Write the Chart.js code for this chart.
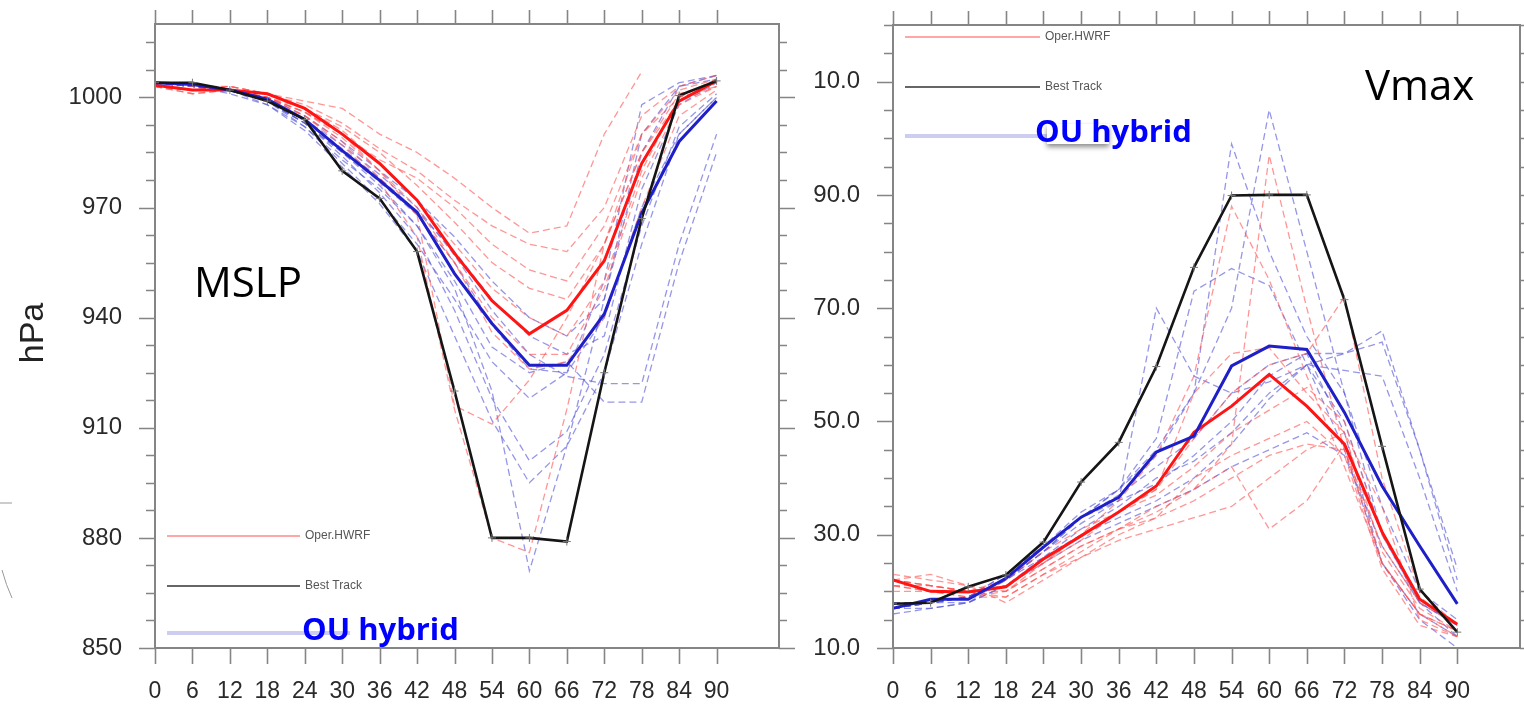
<!DOCTYPE html>
<html>
<head>
<meta charset="utf-8">
<script src="https://cdn.jsdelivr.net/npm/chart.js@4"></script>
<style>
  body { margin: 0; background: #fff; }
  #wrap { position: relative; width: 1524px; height: 704px; overflow: hidden; }
  canvas { position: absolute; top: 0; }
  #mslp { left: 0; }
  #vmax { left: 800px; }
</style>
</head>
<body>
<div id="wrap">
  <canvas id="mslp" width="800" height="704"></canvas>
  <canvas id="vmax" width="724" height="704"></canvas>
</div>
<script>
// forecast hours
const hours = [0, 6, 12, 18, 24, 30, 36, 42, 48, 54, 60, 66, 72, 78, 84, 90];
const hourLabels = ['0','6','12','18','24','30','36','42','48','54','60','66','72','78','84','90'];

// MSLP axis
const mslpTicks = [850, 880, 910, 940, 970, 1000];
const mslpTickLabels = ['850', '880', '910', '940', '970', '1000'];
// Vmax axis (top label is cut off in the picture)
const vmaxTicks = [10, 30, 50, 70, 90, 110];
const vmaxTickLabels = ['10.0', '30.0', '50.0', '70.0', '90.0', '10.0'];

// MSLP (hPa)
const mslpBest = [1004, 1004, 1002, 999, 994, 980, 972.5, 958, 920, 880, 880, 879, 925, 967, 1000.5, 1004.5];
const mslpHwrf = [1003.3, 1002, 1002, 1001, 997, 990, 982, 972, 957.5, 944.6, 935.6, 942, 955.5, 982, 999, 1004.5];
const mslpOu = [1004, 1003.5, 1002, 999.5, 994, 985.5, 977.4, 968.7, 952, 938.4, 927, 927, 941, 968.5, 988, 999];

const mslpHwrfMembers = [
  [1003, 1002, 1003, 1001, 999, 997, 990, 985, 978, 970, 963, 965, 990, 1007, null, null],
  [1004, 1003, 1003, 1001, 998, 993, 986, 980, 972, 965, 960, 958, 970, 995, 1003, 1006],
  [1003, 1002, 1002, 1000, 996, 990, 983, 978, 970, 960, 953, 950, 965, 990, 1002, 1005],
  [1003, 1001, 1002, 1000, 997, 992, 985, 976, 966, 955, 948, 945, 960, 985, 1001, 1004],
  [1004, 1002, 1003, 1001, 997, 991, 982, 972, 960, 948, 940, 935, 950, 980, 1000, 1005],
  [1003, 1002, 1002, 999, 995, 988, 978, 968, 955, 940, 930, 930, 948, 978, 998, 1003],
  [1003, 1001, 1002, 1000, 996, 990, 980, 968, 916, 911, 923, 940, 960, 985, 999, 1003],
  [1003, 1002, 1002, 1000, 995, 987, 977, 962, 915, 880, 876, 915, 960, 990, 1000, 1003],
  [1003, 1002, 1002, 1000, 996, 989, 980, 970, 955, 936, 926, 928, 940, 970, 995, 1002]
];
const mslpOuMembers = [
  [1004, 1003, 1002, 999, 993, 985, 977, 968, 955, 938, 926, 925, 940, 970, 990, 1000],
  [1004, 1003, 1002, 999, 994, 987, 979, 970, 957, 942, 930, 924, 922, 922, 960, 990],
  [1004, 1003, 1002, 998, 992, 983, 975, 965, 950, 932, 925, 928, 917, 917, 955, 985],
  [1004, 1003, 1002, 999, 993, 984, 974, 962, 942, 918, 901, 909, 930, 965, 992, 1001],
  [1004, 1003, 1001, 998, 991, 981, 971, 958, 935, 912, 895, 905, 925, 960, 990, 1000],
  [1004, 1003, 1002, 999, 993, 985, 976, 965, 948, 920, 871, 905, 945, 985, 1003, 1005],
  [1004, 1003, 1002, 1000, 995, 988, 980, 972, 962, 950, 940, 935, 945, 990, 1003, 1006],
  [1004, 1003, 1002, 999, 994, 986, 978, 969, 958, 945, 935, 930, 935, 975, 998, 1004],
  [1004, 1003, 1002, 999, 992, 982, 972, 960, 945, 928, 918, 925, 950, 998, 1004, 1006]
];

// Vmax (kt)
const vmaxBest = [17.8, 18, 20.8, 22.9, 28.7, 39.3, 46.3, 59.7, 77.2, 89.9, 90, 90, 71.5, 45.6, 20.4, 12.8];
const vmaxHwrf = [22, 20, 19.9, 20.8, 25.7, 29.8, 34, 38.6, 48.1, 52.7, 58.3, 52.7, 46, 30.5, 18.6, 14.2];
const vmaxOu = [17, 18.6, 18.6, 22.3, 27.8, 33.1, 36.6, 44.6, 47.4, 59.8, 63.3, 62.7, 51.6, 38.6, 28, 17.8];

const vmaxHwrfMembers = [
  [22, 23, 21, 20, 24, 28, 31, 34, 38, 46, 97, 70, 45, 25, 16, 13],
  [20, 20, 20, 21, 25, 30, 36, 44, 58, 88, 75, 58, 42, 25, 16, 13],
  [21, 21, 20, 21, 25, 29, 34, 38, 47, 55, 60, 62, 72, 40, 20, 14],
  [22, 21, 20, 19, 23, 27, 31, 35, 38, 42, 31, 36, 46, 25, 16, 12],
  [22, 21, 20, 20, 24, 28, 31, 33, 36, 40, 44, 46, 45, 28, 18, 14],
  [21, 20, 19, 20, 25, 30, 34, 37, 42, 48, 52, 56, 50, 30, 19, 14],
  [22, 21, 20, 22, 27, 31, 34, 38, 55, 62, 63, 55, 48, 27, 17, 13],
  [23, 22, 21, 18, 22, 26, 29, 31, 33, 35, 40, 45, 48, 35, 15, 12],
  [21, 20, 19, 19, 23, 26, 30, 33, 40, 44, 47, 50, 44, 24, 14, 12]
];
const vmaxOuMembers = [
  [17, 18, 19, 22, 27, 33, 38, 45, 55, 70, 105, 80, 55, 30, 18, 14],
  [17, 18, 18, 22, 28, 34, 38, 44, 55, 99, 80, 65, 55, 35, 20, 15],
  [17, 18, 19, 23, 28, 33, 38, 47, 73, 77, 74, 60, 50, 30, 18, 12],
  [18, 18, 19, 22, 27, 32, 36, 70, 58, 55, 57, 60, 62, 66, 45, 22],
  [17, 18, 19, 22, 27, 33, 37, 42, 47, 55, 60, 62, 62, 64, 45, 24],
  [17, 17, 18, 21, 26, 31, 35, 40, 43, 48, 55, 60, 59, 58, 40, 20],
  [17, 18, 19, 23, 28, 33, 36, 39, 44, 50, 58, 62, 48, 25, 15, 10],
  [17, 18, 19, 22, 26, 30, 33, 36, 40, 46, 54, 60, 45, 25, 16, 12],
  [16, 17, 18, 21, 25, 29, 32, 35, 38, 42, 45, 48, 44, 28, 18, 14]
];

const FONT = '"Liberation Sans", Arial, sans-serif';

function pts(vals) {
  var out = [];
  hours.forEach(function (h, i) { if (vals[i] != null) out.push({x: h, y: vals[i]}); });
  return out;
}

function buildDatasets(best, hwrf, ou, hwrfMembers, ouMembers) {
  var ds = [];
  ds.push({data: pts(best), borderColor: '#151515', borderWidth: 2.6, order: 0,
    pointStyle: 'cross', pointRadius: 4, pointBorderColor: '#777', pointBorderWidth: 1});
  ds.push({data: pts(ou), borderColor: '#1f1fc8', borderWidth: 3, order: 1, pointRadius: 0});
  ds.push({data: pts(hwrf), borderColor: '#ff1414', borderWidth: 3, order: 2, pointRadius: 0});
  hwrfMembers.forEach(function (m) {
    ds.push({data: pts(m), borderColor: 'rgba(255,80,80,0.6)', borderWidth: 1.3,
      borderDash: [7, 4], order: 10, pointRadius: 0});
  });
  ouMembers.forEach(function (m) {
    ds.push({data: pts(m), borderColor: 'rgba(80,80,215,0.6)', borderWidth: 1.3,
      borderDash: [7, 4], order: 10, pointRadius: 0});
  });
  return ds;
}

// frame and NCL style tick marks (outside the plot box)
function frameTicks(yMajor, minorStep) {
  return {
    id: 'frameTicks',
    afterDraw: function (chart) {
      var ctx = chart.ctx, a = chart.chartArea, x = chart.scales.x, y = chart.scales.y;
      ctx.save();
      ctx.strokeStyle = '#858585';
      ctx.lineWidth = 2;
      ctx.strokeRect(a.left, a.top, a.right - a.left, a.bottom - a.top);
      ctx.lineWidth = 1.6;
      ctx.beginPath();
      hours.forEach(function (h) {
        var px = Math.round(x.getPixelForValue(h)) + 0.5;
        ctx.moveTo(px, a.top); ctx.lineTo(px, a.top - 14);
        ctx.moveTo(px, a.bottom); ctx.lineTo(px, a.bottom + 16);
      });
      for (var v = y.min; v <= y.max + 1e-6; v += minorStep) {
        var py = Math.round(y.getPixelForValue(v)) + 0.5;
        var major = yMajor.indexOf(v) >= 0;
        ctx.moveTo(a.left - (major ? 16 : 9), py); ctx.lineTo(a.left, py);
        ctx.moveTo(a.right, py); ctx.lineTo(a.right + (major ? 16 : 8), py);
      }
      ctx.stroke();
      ctx.restore();
    }
  };
}

function legendLine(ctx, x0, x1, y, color, width) {
  ctx.strokeStyle = color; ctx.lineWidth = width;
  ctx.beginPath(); ctx.moveTo(x0, y); ctx.lineTo(x1, y); ctx.stroke();
}

// label padding would otherwise push the plot box inwards
function noPad(s) { s.paddingTop = 0; s.paddingBottom = 0; s.paddingLeft = 0; s.paddingRight = 0; }

function axisOpts(min, max, ticks, labels, width, labelPad) {
  return {
    x: {
      type: 'linear', min: 0, max: 100,
      afterBuildTicks: function (s) { s.ticks = hours.map(function (v) { return {value: v}; }); },
      afterFit: function (s) { s.height = 56; noPad(s); },
      grid: {display: false, drawTicks: false}, border: {display: false},
      ticks: {autoSkip: false, maxRotation: 0, padding: 30, color: '#2a2a2a',
        font: {family: FONT, size: 23},
        callback: function (v, i) { return hourLabels[i]; }}
    },
    y: {
      type: 'linear', min: min, max: max,
      afterBuildTicks: function (s) { s.ticks = ticks.map(function (v) { return {value: v}; }); },
      afterFit: function (s) { s.width = width; noPad(s); },
      grid: {display: false, drawTicks: false}, border: {display: false},
      ticks: {autoSkip: false, padding: labelPad, color: '#2a2a2a',
        font: {family: FONT, size: 24},
        callback: function (v, i) { return labels[i]; }}
    }
  };
}

var baseOpts = {
  responsive: false, animation: false, devicePixelRatio: 1,
  plugins: {legend: {display: false}, tooltip: {enabled: false}},
  elements: {line: {tension: 0, fill: false}}
};

// ---- left panel: MSLP ----
new Chart(document.getElementById('mslp').getContext('2d'), {
  type: 'line',
  data: {datasets: buildDatasets(mslpBest, mslpHwrf, mslpOu, mslpHwrfMembers, mslpOuMembers)},
  options: Object.assign({}, baseOpts, {
    layout: {autoPadding: false, padding: {left: 0, top: 24, right: 21, bottom: 0}},
    scales: axisOpts(850, 1020, mslpTicks, mslpTickLabels, 155, 33)
  }),
  plugins: [frameTicks(mslpTicks, 7.5), {
    id: 'mslpText',
    afterDraw: function (chart) {
      var ctx = chart.ctx;
      ctx.save();
      // odd bits of another figure at the left edge
      ctx.strokeStyle = '#999'; ctx.lineWidth = 1;
      ctx.beginPath(); ctx.moveTo(0, 503); ctx.lineTo(12, 503);
      ctx.moveTo(2, 570); ctx.quadraticCurveTo(6, 585, 12, 598); ctx.stroke();
      // y title
      ctx.fillStyle = '#222';
      ctx.font = '34px ' + FONT;
      ctx.translate(43, 333); ctx.rotate(-Math.PI / 2);
      ctx.textAlign = 'center'; ctx.textBaseline = 'alphabetic';
      ctx.fillText('hPa', 0, 0);
      ctx.restore();

      ctx.save();
      ctx.fillStyle = '#000';
      ctx.font = '42px "Open Sans", sans-serif';
      ctx.textBaseline = 'alphabetic';
      ctx.fillText('MSLP', 194, 297);
      // legend
      legendLine(ctx, 167, 300, 536, '#ff8a8a', 1.6);
      legendLine(ctx, 167, 300, 586, '#333', 1.6);
      legendLine(ctx, 167, 350, 633, '#cdcdf2', 4);
      ctx.fillStyle = '#555';
      ctx.font = '12px ' + FONT;
      ctx.textBaseline = 'middle';
      ctx.fillText('Oper.HWRF', 305, 536);
      ctx.fillText('Best Track', 305, 586);
      ctx.fillStyle = '#0000ff';
      ctx.font = 'bold 31px "Open Sans", sans-serif';
      ctx.textBaseline = 'alphabetic';
      ctx.fillText('OU hybrid', 302, 640);
      ctx.restore();
    }
  }]
});

// ---- right panel: Vmax ----
new Chart(document.getElementById('vmax').getContext('2d'), {
  type: 'line',
  data: {datasets: buildDatasets(vmaxBest, vmaxHwrf, vmaxOu, vmaxHwrfMembers, vmaxOuMembers)},
  options: Object.assign({}, baseOpts, {
    layout: {autoPadding: false, padding: {left: 0, top: 25, right: 4, bottom: 0}},
    scales: axisOpts(10, 120, vmaxTicks, vmaxTickLabels, 93, 33)
  }),
  plugins: [frameTicks(vmaxTicks, 5), {
    id: 'vmaxText',
    afterDraw: function (chart) {
      var ctx = chart.ctx;
      ctx.save();
      ctx.fillStyle = '#000';
      ctx.font = '42px "Open Sans", sans-serif';
      ctx.textBaseline = 'alphabetic';
      ctx.fillText('Vmax', 565, 100);
      // legend
      legendLine(ctx, 105, 240, 37, '#ff8a8a', 1.6);
      legendLine(ctx, 105, 240, 87, '#333', 1.6);
      legendLine(ctx, 105, 250, 136, '#cdcdf2', 4);
      ctx.fillStyle = '#555';
      ctx.font = '12px ' + FONT;
      ctx.textBaseline = 'middle';
      ctx.fillText('Oper.HWRF', 245, 37);
      ctx.fillText('Best Track', 245, 87);
      // text box with a soft shadow under "OU"
      ctx.save();
      ctx.shadowColor = 'rgba(0,0,0,0.45)';
      ctx.shadowBlur = 5; ctx.shadowOffsetY = 3;
      ctx.fillStyle = '#fff';
      ctx.fillRect(247, 124, 62, 20);
      ctx.restore();
      ctx.fillStyle = '#0000ff';
      ctx.font = 'bold 31px "Open Sans", sans-serif';
      ctx.textBaseline = 'alphabetic';
      ctx.fillText('OU hybrid', 235, 142);
      ctx.restore();
    }
  }]
});
</script>
</body>
</html>
